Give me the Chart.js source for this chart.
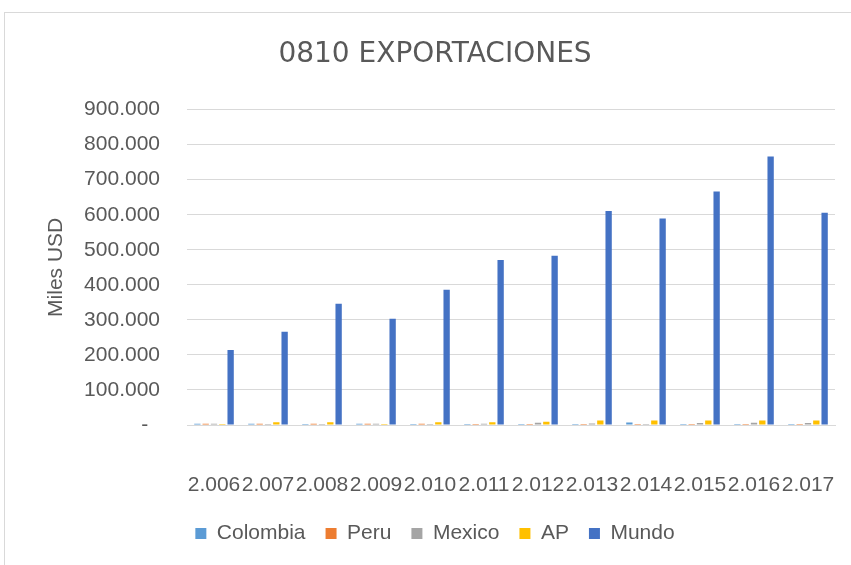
<!DOCTYPE html>
<html>
<head>
<meta charset="utf-8">
<script src="https://cdn.jsdelivr.net/npm/chart.js@4.4.0/dist/chart.umd.min.js"></script>
<style>
  html, body { margin: 0; padding: 0; background: #fff; overflow: hidden; }
  #frame { position: absolute; left: 4px; top: 12px; width: 1000px; height: 1000px; border: 1px solid #d9d9d9; }
  #wrap { position: absolute; left: 0; top: 0; width: 851px; height: 565px; }
</style>
</head>
<body>
<div id="frame"></div>
<div id="wrap"><canvas id="exportChart" width="851" height="565"></canvas></div>
<script>
// years as they appear on the axis (Excel thousands format)
const years = ['2.006', '2.007', '2.008', '2.009', '2.010', '2.011', '2.012', '2.013', '2.014', '2.015', '2.016', '2.017'];

// Miles USD
const colombia = [3500, 3500, 3000, 3500, 3000, 3000, 2500, 2500, 7000, 2500, 2500, 2500];
const peru     = [3500, 3500, 3500, 3500, 3500, 3000, 2500, 2500, 2500, 2500, 2500, 2500];
const mexico   = [3500, 3000, 3000, 3500, 3000, 3500, 6500, 4500, 2500, 6000, 6500, 6000];
const ap       = [3000, 8000, 8000, 3000, 8000, 8000, 9000, 13000, 13000, 13000, 13000, 13000];
const mundo    = [214000, 266000, 346000, 303000, 386000, 471000, 483000, 611000, 589000, 666000, 766000, 606000];

const textColor = '#595959';
const gridColor = '#d9d9d9';
const baseFont = "'Liberation Sans', Arial, sans-serif";

function formatMiles(value) {
  if (value === 0) return '-  ';
  return value.toFixed(0).replace(/\B(?=(\d{3})+(?!\d))/g, '.');
}

const ctx = document.getElementById('exportChart').getContext('2d');

const chart = new Chart(ctx, {
  type: 'bar',
  data: {
    labels: years,
    datasets: [
      { label: 'Colombia', data: colombia, backgroundColor: '#5b9bd5' },
      { label: 'Peru', data: peru, backgroundColor: '#ed7d31' },
      { label: 'Mexico', data: mexico, backgroundColor: '#a5a5a5' },
      { label: 'AP', data: ap, backgroundColor: '#ffc000' },
      { label: 'Mundo', data: mundo, backgroundColor: '#4472c4' }
    ]
  },
  options: {
    responsive: false,
    animation: false,
    categoryPercentage: 0.77,
    barPercentage: 0.76,
    layout: {
      padding: { left: 35, right: 16, top: 0, bottom: 11 }
    },
    plugins: {
      title: {
        display: true,
        text: '0810 EXPORTACIONES',
        color: textColor,
        font: { family: "'DejaVu Sans', sans-serif", size: 28, weight: 'normal' },
        padding: { top: 38, bottom: 38 }
      },
      legend: {
        display: true,
        position: 'bottom',
        labels: {
          color: textColor,
          boxWidth: 11,
          boxHeight: 11,
          padding: 20,
          font: { family: baseFont, size: 21 }
        }
      },
      tooltip: { enabled: false }
    },
    scales: {
      x: {
        // fixed height so the plot bottom lands where the reference has it
        afterFit: function(scale) {
          scale.height = 78;
          scale.paddingLeft = 0;
          scale.paddingRight = 0;
        },
        grid: { display: false, drawTicks: false },
        border: { display: true, color: gridColor },
        ticks: {
          color: textColor,
          autoSkip: false,
          maxRotation: 0,
          minRotation: 0,
          padding: 48,
          font: { family: baseFont, size: 21 }
        }
      },
      y: {
        min: 0,
        max: 900000,
        afterFit: function(scale) { scale.width = 152; },
        grid: { color: gridColor, lineWidth: 1, drawTicks: false },
        border: { display: false },
        ticks: {
          stepSize: 100000,
          color: textColor,
          padding: 27,
          font: { family: baseFont, size: 21 },
          callback: function(value) { return formatMiles(value); }
        },
        title: {
          display: true,
          text: 'Miles USD',
          color: textColor,
          padding: { top: 9, bottom: 0 },
          font: { family: baseFont, size: 21 }
        }
      }
    }
  }
});
</script>
</body>
</html>
